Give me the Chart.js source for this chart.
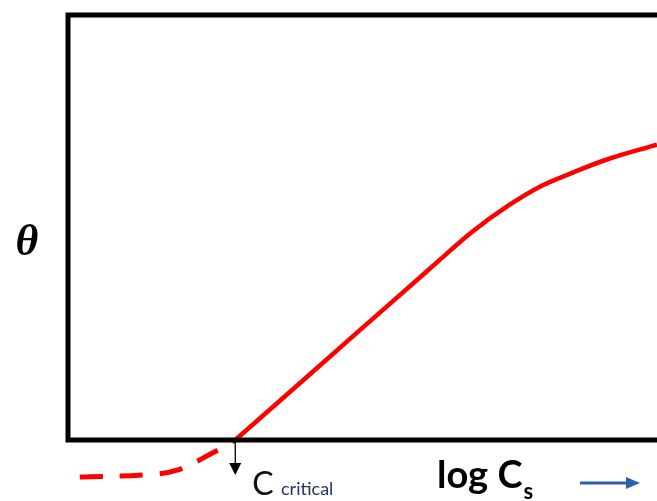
<html>
  <head>
    <title>theta vs log Cs</title>
    <style>
      body {
        margin: 0;
        padding: 0;
        background: #fff;
      }
      canvas#canvas {
        display: block;
      }
    </style>
    <script src="https://cdn.jsdelivr.net/npm/chart.js@4/dist/chart.umd.min.js"></script>
  </head>
  <body>
    <canvas id="canvas" width="657" height="501"></canvas>
    <script>
      // solid part of the curve (log Cs, theta), above C critical
      const solidX = [2.84, 3.94, 4.96, 5.93, 6.37, 6.88, 7.45, 8.01, 8.57, 9.15, 10];
      const solidY = [0, 0.134, 0.259, 0.377, 0.431, 0.492, 0.549, 0.596, 0.629, 0.66, 0.695];
      // dashed part, below C critical (drawn under the axis)
      const dashX = [0.2, 1.3, 1.85, 2.46, 2.84];
      const dashY = [-0.087, -0.082, -0.071, -0.03, 0];
      const cCritical = 2.84;

      const toPts = (xs, ys) => xs.map((x, i) => ({ x: x, y: ys[i] }));

      const frame = {
        id: 'frame',
        afterDraw(chart) {
          const ctx = chart.ctx;
          const a = chart.chartArea;
          const xs = chart.scales.x;
          ctx.save();
          // box (left, top, bottom)
          ctx.strokeStyle = '#000';
          ctx.lineWidth = 5;
          ctx.lineCap = 'square';
          ctx.beginPath();
          ctx.moveTo(a.right + 5, a.top);
          ctx.lineTo(a.left, a.top);
          ctx.lineTo(a.left, a.bottom);
          ctx.lineTo(a.right + 5, a.bottom);
          ctx.stroke();

          // arrow at C critical
          const cx = xs.getPixelForValue(cCritical);
          ctx.lineWidth = 1.3;
          ctx.lineCap = 'butt';
          ctx.beginPath();
          ctx.moveTo(cx, a.bottom);
          ctx.lineTo(cx, a.bottom + 24);
          ctx.stroke();
          ctx.fillStyle = '#000';
          ctx.beginPath();
          ctx.moveTo(cx - 6, a.bottom + 23);
          ctx.lineTo(cx + 6, a.bottom + 23);
          ctx.lineTo(cx, a.bottom + 35);
          ctx.closePath();
          ctx.fill();

          // labels
          ctx.textBaseline = 'alphabetic';
          ctx.textAlign = 'left';
          ctx.fillStyle = '#111';
          ctx.font = '32px Lato';
          ctx.fillText('C', cx + 17, 495);
          ctx.fillStyle = '#1f3560';
          ctx.font = '18px Lato';
          ctx.fillText('critical', 281, 495);

          ctx.fillStyle = '#000';
          ctx.font = 'bold 38px Lato';
          ctx.fillText('log C', 437, 488);
          const w = ctx.measureText('log C').width;
          ctx.font = 'bold 22px Lato';
          ctx.fillText('s', 437 + w + 1, 499);

          // blue arrow
          ctx.strokeStyle = '#2f5fae';
          ctx.fillStyle = '#2f5fae';
          ctx.lineWidth = 3;
          ctx.beginPath();
          ctx.moveTo(580, 483);
          ctx.lineTo(628, 483);
          ctx.stroke();
          ctx.beginPath();
          ctx.moveTo(626, 477);
          ctx.lineTo(640, 483);
          ctx.lineTo(626, 489);
          ctx.closePath();
          ctx.fill();

          // theta
          ctx.fillStyle = '#000';
          ctx.font = 'italic bold 44px "Liberation Serif"';
          ctx.textAlign = 'center';
          ctx.textBaseline = 'middle';
          ctx.fillText('\u03B8', 27, 244);
          ctx.restore();
        },
      };

      new Chart(document.getElementById('canvas'), {
        type: 'scatter',
        data: {
          datasets: [
            {
              data: toPts(solidX, solidY),
              showLine: true,
              borderColor: '#ff0000',
              borderWidth: 4.5,
              pointRadius: 0,
              tension: 0.4,
            },
            {
              data: toPts(dashX, dashY),
              showLine: true,
              borderColor: '#ff0000',
              borderWidth: 5,
              borderDash: [23, 17],
              pointRadius: 0,
              tension: 0.4,
              clip: false,
            },
          ],
        },
        options: {
          responsive: false,
          animation: false,
          layout: { padding: { left: 68, top: 15, right: 0, bottom: 61 } },
          scales: {
            x: { type: 'linear', min: 0, max: 10, display: false },
            y: { type: 'linear', min: 0, max: 1, display: false },
          },
          plugins: {
            legend: { display: false },
            tooltip: { enabled: false },
          },
        },
        plugins: [frame],
      });
    </script>
  </body>
</html>
